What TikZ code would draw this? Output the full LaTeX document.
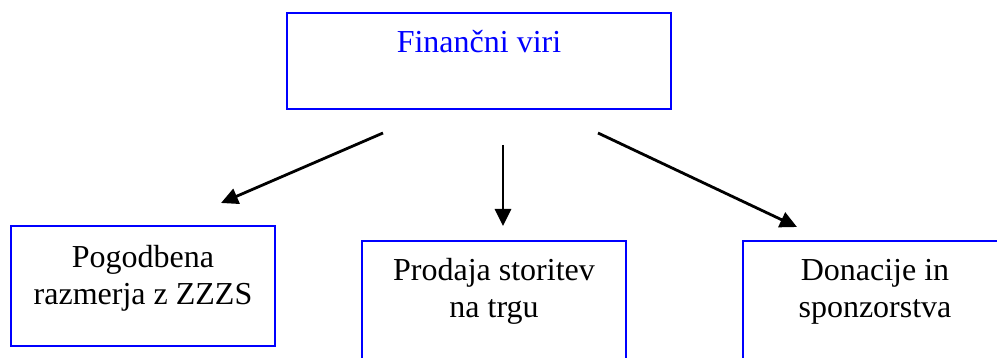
\documentclass[tikz,border=0pt]{standalone}
\usepackage{fontspec}
\setmainfont{Liberation Serif}
\usetikzlibrary{arrows.meta}
\tikzset{
  bluebox/.style={draw=blue, line width=2.2pt, rectangle, inner sep=0pt},
  txt/.style={inner sep=0pt, anchor=base, align=center, font=\fontsize{32}{37}\selectfont},
  conn/.style={draw=black, line width=2.8pt, -{Triangle[length=17pt,width=16pt]}}
}
\begin{document}
\begin{tikzpicture}[x=1pt,y=-1pt]
\useasboundingbox (0,0) rectangle (997,358);
\begin{scope}
\clip (0,0) rectangle (997,358);
% boxes
\node[bluebox, minimum width=384pt, minimum height=96pt] (top) at (479,61) {};
\node[bluebox, minimum width=264pt, minimum height=120pt] (b1) at (143,286) {};
\node[bluebox, minimum width=264pt, minimum height=120pt] (b2) at (494,301) {};
\node[bluebox, minimum width=264pt, minimum height=120pt] (b3) at (875,301) {};
% texts
\node[txt, text=blue] (toptext) at (479,53) {Finančni viri};
\node[txt] (t1a) at (143,268) {Pogodbena};
\node[txt] (t1b) at (143,305) {razmerja z ZZZS};
\node[txt] (t2a) at (494,281) {Prodaja storitev};
\node[txt] (t2b) at (494,318) {na trgu};
\node[txt] (t3a) at (875,281) {Donacije in};
\node[txt] (t3b) at (875,318) {sponzorstva};
% connector ends
\coordinate (s1) at (383,133);
\coordinate (e1) at (221,203);
\coordinate (s2) at (503,145);
\coordinate (e2) at (503,226);
\coordinate (s3) at (598,133);
\coordinate (e3) at (797,227);
\draw[conn] (s1) -- (e1);
\draw[conn] (s2) -- (e2);
\draw[conn] (s3) -- (e3);
\end{scope}
\end{tikzpicture}
\end{document}
